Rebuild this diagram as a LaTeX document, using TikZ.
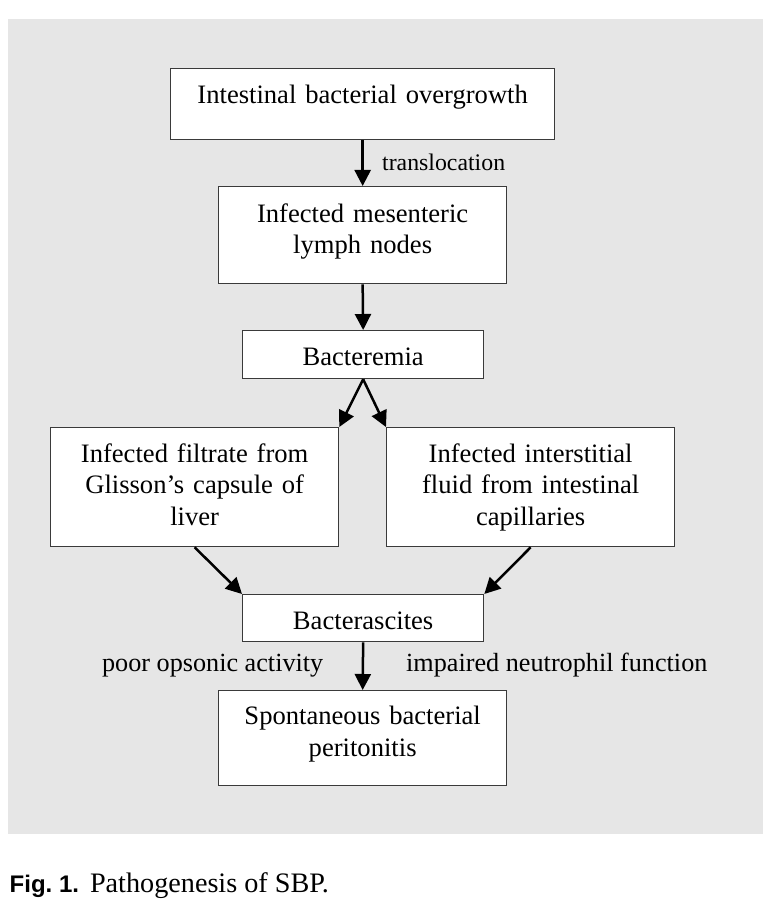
\documentclass[tikz,border=0pt]{standalone}
\usepackage{fontspec}
\setmainfont{Liberation Serif}
\newfontfamily\figsans{Liberation Sans}
\usetikzlibrary{arrows.meta}
\definecolor{bggray}{HTML}{E6E6E6}
\definecolor{boxline}{HTML}{3A3A3A}
\begin{document}
\begin{tikzpicture}[x=1pt,y=-1pt,
  box/.style={draw=boxline, line width=1.3pt, fill=white, inner sep=0pt,
    align=center, anchor=north west, font=\fontsize{26.6}{31.5}\selectfont},
  arr/.style={line width=2.5pt, -{Triangle[length=16pt,width=16pt]}},
  lbl/.style={inner sep=0pt, font=\fontsize{26.2}{31}\selectfont}]
\useasboundingbox (0,0) rectangle (774,917);
\fill[bggray] (8,19) rectangle (763,834);

\node[box, text width=384pt, text height=35.3pt, text depth=35.7pt] (b1) at (170,68)
  {Intestinal bacterial overgrowth};
\node[box, text width=288pt, text height=35.5pt, text depth=61.5pt] (b2) at (218,186)
  {Infected mesenteric\\lymph nodes};
\node[box, text width=241pt, text height=35pt, text depth=13pt] (b3) at (242,330)
  {Bacteremia};
\node[box, text width=288pt, text height=34.5pt, text depth=84.5pt] (b4) at (50,427)
  {Infected filtrate from\\Glisson’s capsule of\\liver};
\node[box, text width=288pt, text height=34.5pt, text depth=84.5pt] (b5) at (386,427)
  {Infected interstitial\\fluid from intestinal\\capillaries};
\node[box, text width=241pt, text height=35pt, text depth=12pt] (b6) at (242,594)
  {Bacterascites};
\node[box, text width=288pt, text height=34pt, text depth=61pt] (b7) at (218,690)
  {Spontaneous bacterial\\peritonitis};

\draw[arr] (b1.south) -- (b2.north);
\draw[arr] (b2.south) -- (b3.north);
\draw[arr] (b3.south) -- (b4.north east);
\draw[arr] (b3.south) -- (b5.north west);
\draw[arr] (b4.south) -- (b6.north west);
\draw[arr] (b5.south) -- (b6.north east);
\draw[arr] (b6.south) -- (b7.north);

\node[lbl, anchor=base west, font=\fontsize{23.8}{28}\selectfont] (tl) at (382,170.7) {translocation};
\node[lbl, anchor=base east] (po) at (323.5,671) {poor opsonic activity};
\node[lbl, anchor=base west] (in) at (406,671) {impaired neutrophil function};

\node[anchor=base west, inner sep=0pt, font=\fontsize{28.2}{33}\selectfont] (cap) at (9.5,892.7)
  {{\figsans\bfseries\fontsize{24}{28}\selectfont Fig.~1.}\hspace{11pt}Pathogenesis of SBP.};
\end{tikzpicture}
\end{document}
